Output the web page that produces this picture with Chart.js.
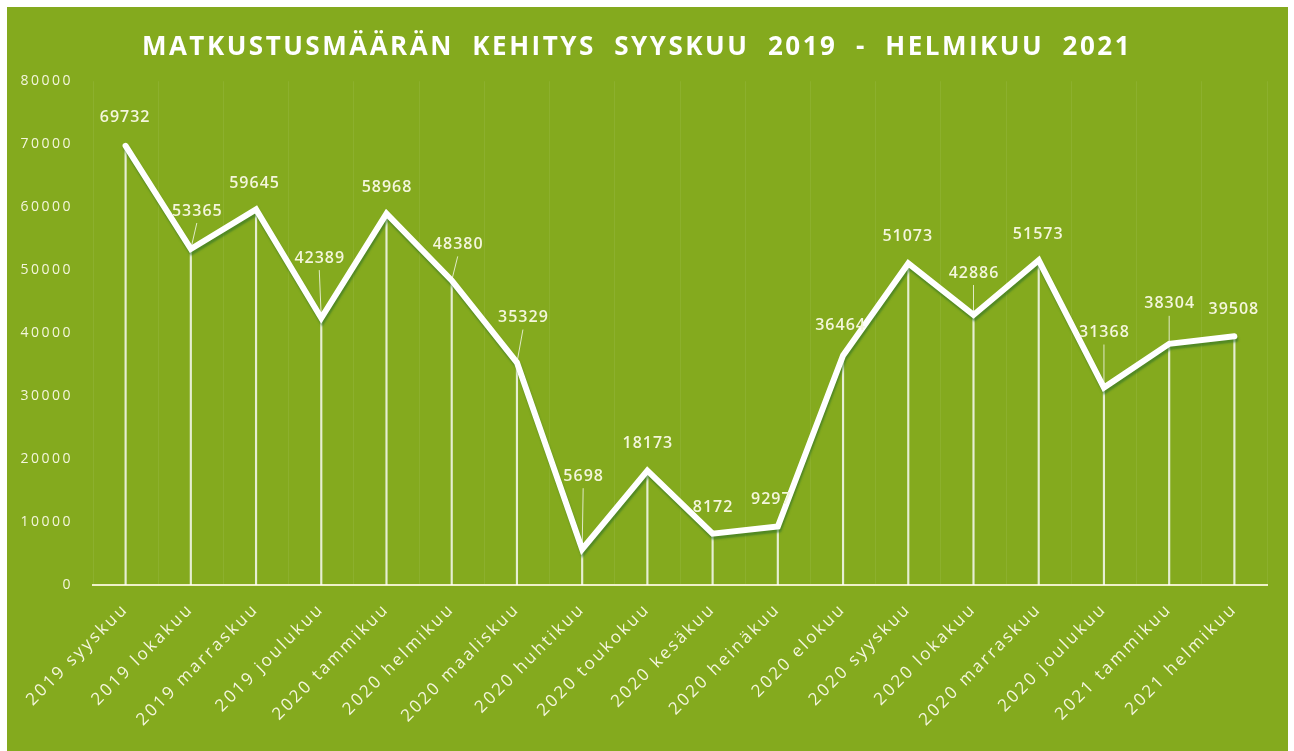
<!DOCTYPE html>
<html>
<head>
<meta charset="utf-8">
<script src="https://cdn.jsdelivr.net/npm/chart.js@4/dist/chart.umd.min.js"></script>
<style>
  html, body { margin: 0; padding: 0; background: #ffffff; }
  #panel {
    position: absolute; left: 7px; top: 7px;
    width: 1281px; height: 744px;
    background: #84aa1e;
  }
</style>
</head>
<body>
<div id="panel"><canvas id="chart"></canvas></div>
<script>
const months = [
  '2019 syyskuu', '2019 lokakuu', '2019 marraskuu', '2019 joulukuu',
  '2020 tammikuu', '2020 helmikuu', '2020 maaliskuu', '2020 huhtikuu',
  '2020 toukokuu', '2020 kesäkuu', '2020 heinäkuu', '2020 elokuu',
  '2020 syyskuu', '2020 lokakuu', '2020 marraskuu', '2020 joulukuu',
  '2021 tammikuu', '2021 helmikuu'
];
const passengers = [
  69732, 53365, 59645, 42389, 58968, 48380, 35329, 5698,
  18173, 8172, 9297, 36464, 51073, 42886, 51573, 31368,
  38304, 39508
];
const yTicks = [0, 10000, 20000, 30000, 40000, 50000, 60000, 70000, 80000];
const titleText = 'MATKUSTUSMÄÄRÄN  KEHITYS  SYYSKUU  2019  -  HELMIKUU  2021';

// where each value label sits relative to its point (px), as dragged in the original
const labelShift = [
  [-1, -28], [6, -38], [-2, -26], [-2, -60], [0, -26], [6, -36],
  [6, -45], [1, -73], [0, -27], [0, -26], [-7, -27], [-3, -30],
  [-1, -27], [0, -42], [-1, -26], [0, -55], [0, -40], [-1, -27]
];

const textColor = '#f4f6dc';

// the original uses widely spaced lettering for title and axis labels
const spacing = {
  id: 'spacing',
  beforeUpdate(chart) { chart.ctx.letterSpacing = '2.5px'; },
  beforeDraw(chart) { chart.ctx.letterSpacing = '2.5px'; }
};

// value labels (with leader lines when moved away from the point)
const valueLabels = {
  id: 'valueLabels',
  afterDatasetsDraw(chart) {
    const meta = chart.getDatasetMeta(1);
    const ctx = chart.ctx;
    ctx.save();
    ctx.letterSpacing = '1px';
    ctx.font = '600 16px "Open Sans"';
    ctx.fillStyle = textColor;
    ctx.strokeStyle = 'rgba(255,255,255,0.75)';
    ctx.lineWidth = 1;
    ctx.textAlign = 'center';
    ctx.textBaseline = 'middle';
    meta.data.forEach((pt, i) => {
      const [dx, dy] = labelShift[i];
      const lx = pt.x + dx, ly = pt.y + dy;
      if (dy < -33) {
        ctx.beginPath();
        ctx.moveTo(pt.x, pt.y);
        ctx.lineTo(lx, ly + 12);
        ctx.stroke();
      }
      ctx.fillText(String(passengers[i]), lx + 0.5, ly);
    });
    ctx.restore();
  }
};

// soft shadow under the white line
const lineShadow = {
  id: 'lineShadow',
  beforeDatasetDraw(chart, args) {
    if (args.index !== 1) return;
    const ctx = chart.ctx;
    ctx.save();
    ctx.shadowColor = 'rgba(40, 110, 40, 0.55)';
    ctx.shadowOffsetX = 1;
    ctx.shadowOffsetY = 3;
    ctx.shadowBlur = 2;
  },
  afterDatasetDraw(chart, args) {
    if (args.index !== 1) return;
    chart.ctx.restore();
  }
};

new Chart(document.getElementById('chart'), {
  data: {
    labels: months,
    datasets: [
      {
        // thin drop lines from each point to the axis
        type: 'bar',
        data: passengers,
        backgroundColor: 'rgba(255,255,255,0.8)',
        barThickness: 1.5,
        order: 2
      },
      {
        type: 'line',
        data: passengers,
        borderColor: '#ffffff',
        borderWidth: 6,
        borderCapStyle: 'round',
        borderJoinStyle: 'miter',
        pointRadius: 0,
        tension: 0,
        order: 1
      }
    ]
  },
  options: {
    responsive: true,
    maintainAspectRatio: false,
    animation: false,
    layout: { padding: { left: 0, right: 21, bottom: 7 } },
    plugins: {
      legend: { display: false },
      tooltip: { enabled: false },
      title: {
        display: true,
        text: titleText,
        color: '#ffffff',
        font: { family: '"Open Sans"', size: 26, weight: 'bold' },
        padding: { top: 25, bottom: 18 }
      }
    },
    scales: {
      x: {
        offset: true,
        grid: { display: true, offset: true, color: 'rgba(255,255,255,0.07)', drawTicks: false },
        border: { display: true, color: '#eef0c8', width: 2 },
        ticks: {
          color: textColor,
          font: { family: '"Open Sans"', size: 17 },
          maxRotation: 45,
          minRotation: 45,
          padding: 14,
          autoSkip: false
        }
      },
      y: {
        min: 0,
        max: 80000,
        afterBuildTicks: (axis) => { axis.ticks = yTicks.map(v => ({ value: v })); },
        afterFit: (axis) => { axis.width = 86; },
        grid: { display: false },
        border: { display: false },
        ticks: {
          color: textColor,
          font: { family: '"Open Sans"', size: 14 },
          padding: 12,
          callback: (v) => String(v)
        }
      }
    }
  },
  plugins: [spacing, valueLabels, lineShadow]
});
</script>
</body>
</html>
